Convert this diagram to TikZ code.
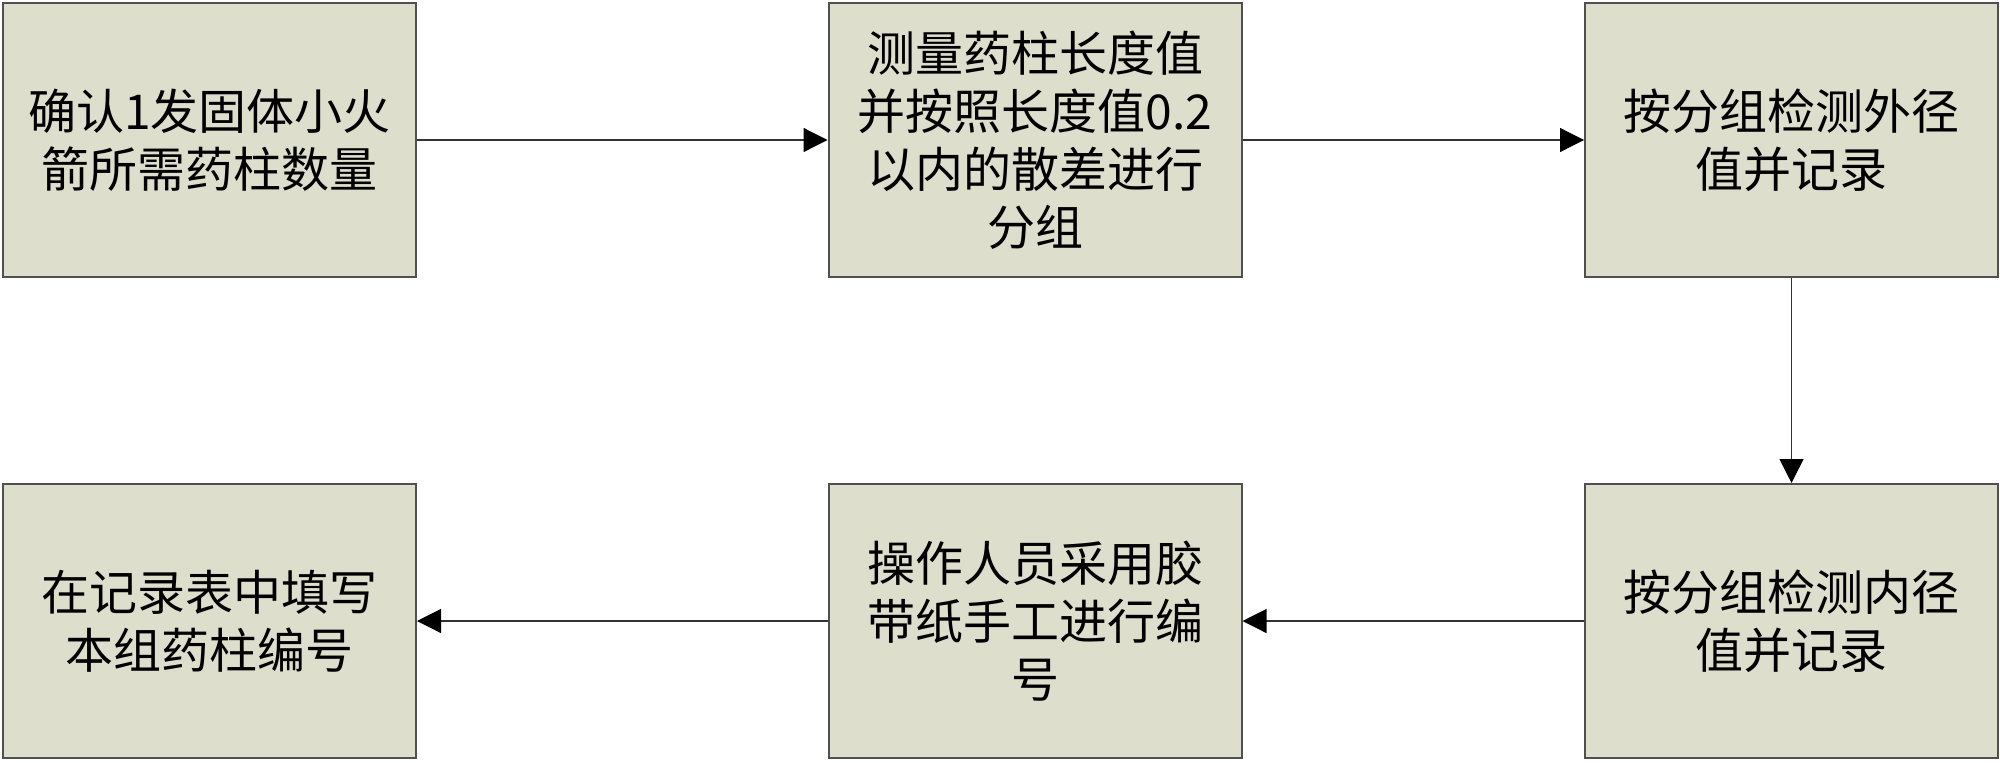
\documentclass[tikz,border=0pt]{standalone}
\usepackage{fontspec}
\newfontfamily\cjk{Noto Sans CJK SC}
\usetikzlibrary{arrows.meta}
\definecolor{boxfill}{RGB}{221,222,204}
\definecolor{boxline}{RGB}{80,80,80}
\definecolor{conn}{RGB}{50,50,50}
\tikzset{
  stepbox/.style={draw=boxline, line width=1pt, fill=boxfill, minimum width=206.5pt, minimum height=137pt, inner sep=0pt, align=center, font=\cjk\fontsize{24}{29}\selectfont, text=black},
  link/.style={draw=conn, line width=0.6pt, -{Triangle[length=12pt,width=12pt,fill=black,color=black]}}
}
\begin{document}
\begin{tikzpicture}[x=0.5pt,y=-0.5pt]
\useasboundingbox (0,0) rectangle (2000,762);
\node[stepbox] (a) at (209.5,140) {确认1发固体小火\\箭所需药柱数量};
\node[stepbox] (b) at (1035,140) {测量药柱长度值\\并按照长度值0.2\\以内的散差进行\\分组};
\node[stepbox] (c) at (1791.5,140) {按分组检测外径\\值并记录};
\node[stepbox] (d) at (1791.5,621) {按分组检测内径\\值并记录};
\node[stepbox] (e) at (1035,621) {操作人员采用胶\\带纸手工进行编\\号};
\node[stepbox] (f) at (209.5,621) {在记录表中填写\\本组药柱编号};
\draw[link] (a) -- (b);
\draw[link] (b) -- (c);
\draw[link] (c) -- (d);
\draw[link] (d) -- (e);
\draw[link] (e) -- (f);
\end{tikzpicture}
\end{document}
